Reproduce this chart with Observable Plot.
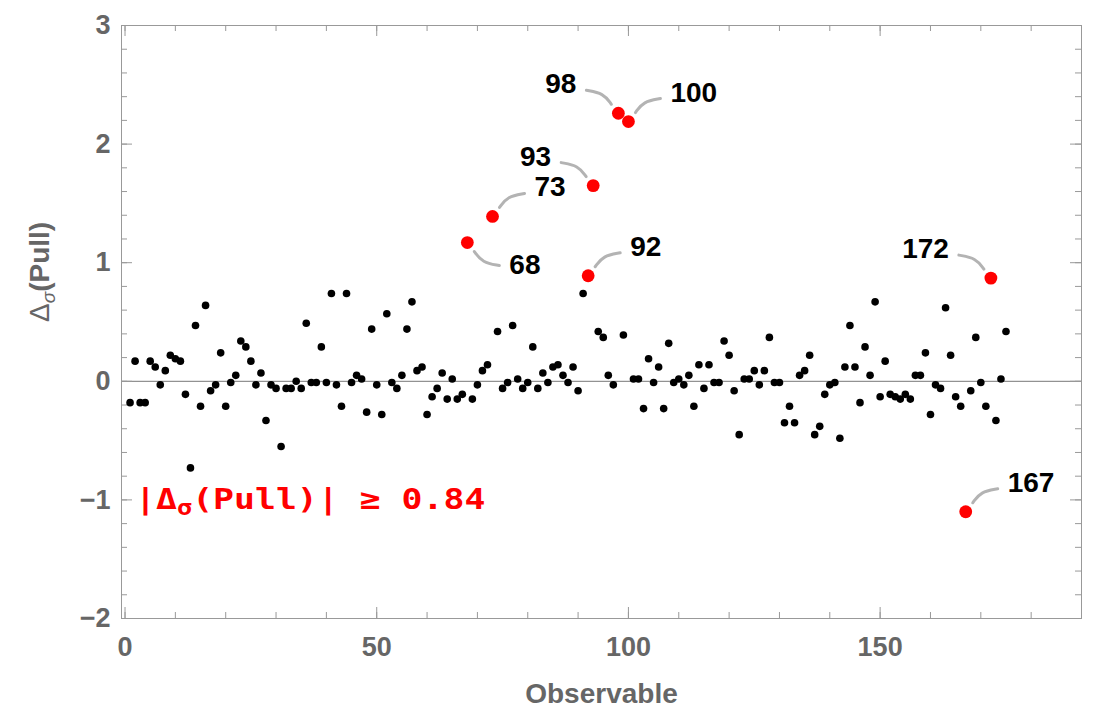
<!DOCTYPE html>
<html>
<head>
<meta charset="utf-8">
<script src="https://cdn.jsdelivr.net/npm/d3@7"></script>
<script src="https://cdn.jsdelivr.net/npm/@observablehq/plot@0.6"></script>
<style>
  html, body { margin: 0; padding: 0; background: #fff; }
  #chart svg { display: block; }
</style>
</head>
<body>
<div id="chart"></div>
<script>
// ---------------- data ----------------
const observables = d3.range(1, 176);
const pulls = [
  -0.18, 0.17, -0.18, -0.18, 0.17, 0.12, -0.03, 0.09, 0.22, 0.19,
  0.17, -0.11, -0.73, 0.47, -0.21, 0.64, -0.08, -0.03, 0.24, -0.21,
  -0.01, 0.05, 0.34, 0.29, 0.17, -0.03, 0.07, -0.33, -0.03, -0.06,
  -0.55, -0.06, -0.06, 0.00, -0.06, 0.49, -0.01, -0.01, 0.29, -0.01,
  0.74, -0.03, -0.21, 0.74, -0.01, 0.05, 0.02, -0.26, 0.44, -0.03,
  -0.28, 0.57, -0.01, -0.06, 0.05, 0.44, 0.67, 0.09, 0.12, -0.28,
  -0.13, -0.06, 0.07, -0.15, 0.02, -0.15, -0.11, 1.17, -0.15, -0.03,
  0.09, 0.14, 1.39, 0.42, -0.06, -0.01, 0.47, 0.02, -0.06, -0.01,
  0.29, -0.06, 0.07, -0.01, 0.12, 0.14, 0.05, -0.01, 0.12, -0.08,
  0.74, 0.89, 1.65, 0.42, 0.37, 0.05, -0.03, 2.26, 0.39, 2.19,
  0.02, 0.02, -0.23, 0.19, -0.01, 0.12, -0.23, 0.32, -0.01, 0.02,
  -0.03, 0.05, -0.21, 0.14, -0.06, 0.14, -0.01, -0.01, 0.34, 0.22,
  -0.08, -0.45, 0.02, 0.02, 0.09, -0.03, 0.09, 0.37, -0.01, -0.01,
  -0.35, -0.21, -0.35, 0.05, 0.09, 0.22, -0.45, -0.38, -0.11, -0.03,
  -0.01, -0.48, 0.12, 0.47, 0.12, -0.18, 0.29, 0.05, 0.67, -0.13,
  0.17, -0.11, -0.13, -0.15, -0.11, -0.15, 0.05, 0.05, 0.24, -0.28,
  -0.03, -0.06, 0.62, 0.22, -0.13, -0.21, -1.10, -0.08, 0.37, -0.01,
  -0.21, 0.87, -0.33, 0.02, 0.42
];
const threshold = 0.84;
const highlighted = [68, 73, 92, 93, 98, 100, 167, 172];
// callout direction: x +1 = label to the right, y +1 = label above
const calloutDirX = [1, 1, 1, -1, -1, 1, 1, -1];
const calloutDirY = [-1, 1, 1, 1, 1, 1, 1, 1];
const xMajorTicks = [0, 50, 100, 150];
const xMinorTicks = [0, 10, 20, 30, 40, 50, 60, 70, 80, 90, 100, 110, 120, 130, 140, 150, 160, 170, 180];
const yMajorTicks = [-2, -1, 0, 1, 2, 3];
const yMinorTicks = [-2, -1.8, -1.6, -1.4, -1.2, -1, -0.8, -0.6, -0.4, -0.2, 0, 0.2, 0.4, 0.6, 0.8, 1, 1.2, 1.4, 1.6, 1.8, 2, 2.2, 2.4, 2.6, 2.8, 3];
const xLabel = "Observable";
const yLabel = "Δσ(Pull)";

// ---------------- layout ----------------
const W = 1095, H = 713;
const mL = 121, mR = 14, mT = 25, mB = 95;
const xDomain = [-0.7, 190];
const yDomain = [-2, 3];
const plotW = W - mL - mR;
const plotH = H - mT - mB;
const kx = plotW / (xDomain[1] - xDomain[0]);
const ky = plotH / (yDomain[1] - yDomain[0]);

const frameColor = "#999999";
const labelColor = "#666666";
const sans = "'Liberation Sans', Arial, Helvetica, sans-serif";
const mono = "'DejaVu Sans Mono', monospace";

const points = observables.map((x, i) => ({x, y: pulls[i]}));
const normal = points.filter(d => Math.abs(d.y) < threshold);
const outliers = points.filter(d => Math.abs(d.y) >= threshold);

const leaderOffsets = [[7, 9], [15, 20], [32, 23]];
const leaders = highlighted.flatMap((id, i) => {
  const p = points[id - 1], sx = calloutDirX[i], sy = calloutDirY[i];
  return leaderOffsets.map(([dx, dy]) => ({id, x: p.x + sx * dx / kx, y: p.y + sy * dy / ky}));
});
const calloutLabels = highlighted.map((id, i) => {
  const p = points[id - 1], sx = calloutDirX[i], sy = calloutDirY[i];
  const dyLab = sy > 0 ? 29 : 22;
  return {id, sx, x: p.x + sx * 42 / kx, y: p.y + sy * dyLab / ky, text: String(id)};
});

const fmtY = d => d < 0 ? "\u2212" + (-d) : String(d);
const noteText = `|Δσ(Pull)| ≥ ${threshold}`;

const chart = Plot.plot({
  width: W, height: H,
  marginLeft: mL, marginRight: mR, marginTop: mT, marginBottom: mB,
  style: {fontFamily: sans, background: "#fff", overflow: "visible"},
  x: {domain: xDomain, axis: null},
  y: {domain: yDomain, axis: null},
  marks: [
    // zero line
    Plot.ruleY([0], {stroke: "#777", strokeWidth: 1}),
    // frame ticks (inward)
    Plot.tickX(xMinorTicks, {x: d => d, stroke: frameColor, insetTop: plotH - 6}),
    Plot.tickX(xMajorTicks, {x: d => d, stroke: frameColor, insetTop: plotH - 11}),
    Plot.tickX(xMinorTicks, {x: d => d, stroke: frameColor, insetBottom: plotH - 6}),
    Plot.tickX(xMajorTicks, {x: d => d, stroke: frameColor, insetBottom: plotH - 11}),
    Plot.tickY(yMinorTicks, {y: d => d, stroke: frameColor, insetRight: plotW - 6}),
    Plot.tickY(yMajorTicks, {y: d => d, stroke: frameColor, insetRight: plotW - 11}),
    Plot.tickY(yMinorTicks, {y: d => d, stroke: frameColor, insetLeft: plotW - 6}),
    Plot.tickY(yMajorTicks, {y: d => d, stroke: frameColor, insetLeft: plotW - 11}),
    Plot.frame({stroke: frameColor, strokeWidth: 1}),
    // tick labels
    Plot.text(xMajorTicks, {x: d => d, text: d => String(d), frameAnchor: "bottom", dy: 18, lineAnchor: "top",
      fill: labelColor, fontSize: 27, fontWeight: "bold"}),
    Plot.text(yMajorTicks, {y: d => d, text: fmtY, frameAnchor: "left", dx: -11, textAnchor: "end",
      fill: labelColor, fontSize: 27, fontWeight: "bold"}),
    // axis labels
    Plot.text([xLabel], {text: d => d, frameAnchor: "bottom", dy: 84, fill: labelColor, fontSize: 28, fontWeight: "bold"}),
    Plot.text([yLabel], {text: d => d, frameAnchor: "left", dx: -81, rotate: -90, fill: labelColor, fontSize: 28,
      fontWeight: "bold"}),
    // leaders
    Plot.line(leaders, {x: "x", y: "y", z: "id", stroke: "#b3b3b3", strokeWidth: 3, curve: "basis",
      strokeLinecap: "round"}),
    // points
    Plot.dot(normal, {x: "x", y: "y", r: 3.8, fill: "black"}),
    Plot.dot(outliers, {x: "x", y: "y", r: 6.4, fill: "#ff0000"}),
    // callout labels
    Plot.text(calloutLabels.filter(d => d.sx > 0), {x: "x", y: "y", text: "text", textAnchor: "start",
      fill: "black", fontSize: 28, fontWeight: "bold"}),
    Plot.text(calloutLabels.filter(d => d.sx < 0), {x: "x", y: "y", text: "text", textAnchor: "end",
      fill: "black", fontSize: 28, fontWeight: "bold"}),
    // threshold note
    Plot.text([noteText], {x: 2, y: -1.0, text: d => d, textAnchor: "start",
      fill: "#ff0000", fontFamily: mono, fontSize: 29, fontWeight: "bold"})
  ]
});

document.getElementById("chart").appendChild(chart);

// rich text: subscript sigma
(function () {
  const ns = "http://www.w3.org/2000/svg";
  const texts = Array.from(chart.querySelectorAll("text"));
  const t = texts.find(e => e.textContent === noteText);
  if (t) {
    const tr = t.getAttribute("transform") || "";
    t.setAttribute("transform", tr + " scale(1.2,1)");
    t.textContent = "";
    const a = document.createElementNS(ns, "tspan"); a.textContent = "|Δ";
    const b = document.createElementNS(ns, "tspan"); b.textContent = "σ";
    b.setAttribute("font-size", "21"); b.setAttribute("dy", "6");
    const c = document.createElementNS(ns, "tspan"); c.textContent = `(Pull)| ≥ ${threshold}`;
    c.setAttribute("dy", "-6");
    t.append(a, b, c);
  }
  const yl = texts.find(e => e.textContent === yLabel);
  if (yl) {
    yl.textContent = "";
    const a = document.createElementNS(ns, "tspan"); a.textContent = "Δ"; a.setAttribute("font-weight", "normal");
    const b = document.createElementNS(ns, "tspan"); b.textContent = "σ";
    b.setAttribute("font-size", "19"); b.setAttribute("dy", "6"); b.setAttribute("font-style", "italic");
    b.setAttribute("font-weight", "normal");
    const c = document.createElementNS(ns, "tspan"); c.textContent = "(Pull)"; c.setAttribute("dy", "-6");
    yl.append(a, b, c);
  }
})();
</script>
</body>
</html>
